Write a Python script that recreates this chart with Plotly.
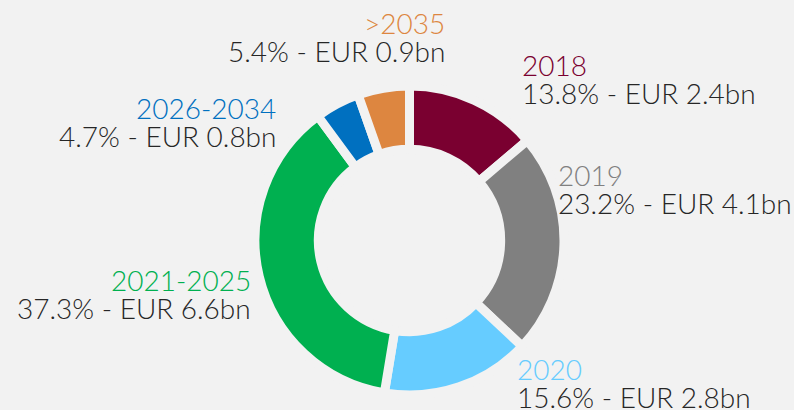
import plotly.graph_objects as go

categories = ["2018", "2019", "2020", "2021-2025", "2026-2034", ">2035"]
shares_pct = [13.8, 23.2, 15.6, 37.3, 4.7, 5.4]
amounts_bn = [2.4, 4.1, 2.8, 6.6, 0.8, 0.9]
colors = ["#7a0030", "#808080", "#66ccff", "#00b050", "#0070c0", "#dd8640"]

BG = "#f2f2f2"
W, H = 794, 410

# label layout (pixel positions of each label block: anchor x, first line mid y, side)
label_pos = {
    "2018": (520, 65, "left"),
    "2019": (556, 175, "left"),
    "2020": (515, 369, "left"),
    "2021-2025": (253, 280, "right"),
    "2026-2034": (278, 108, "right"),
    ">2035": (447, 23, "right"),
}
line_gap = 28

# donut geometry in pixels
cx, cy, r = 409.5, 240.5, 154.5

fig = go.Figure(go.Pie(
    labels=categories,
    values=shares_pct,
    sort=False,
    direction="clockwise",
    rotation=0,
    hole=0.59,
    marker=dict(colors=colors, line=dict(color=BG, width=9)),
    textinfo="none",
    hoverinfo="label+percent",
    showlegend=False,
    domain=dict(x=[(cx - r) / W, (cx + r) / W], y=[1 - (cy + r) / H, 1 - (cy - r) / H]),
))

font_family = "Lato, 'Open Sans', sans-serif"
annotations = []
for cat, pct, amt, col in zip(categories, shares_pct, amounts_bn, colors):
    x, y, side = label_pos[cat]
    annotations.append(dict(
        x=x / W, y=1 - y / H, xref="paper", yref="paper",
        text=cat, showarrow=False, xanchor=side, yanchor="middle",
        font=dict(family=font_family, size=28, color=col, weight=300),
    ))
    annotations.append(dict(
        x=x / W, y=1 - (y + line_gap) / H, xref="paper", yref="paper",
        text=f"{pct:.1f}% - EUR {amt}bn", showarrow=False, xanchor=side, yanchor="middle",
        font=dict(family=font_family, size=28, color="#262626", weight=300),
    ))

fig.update_layout(
    width=W, height=H,
    margin=dict(l=0, r=0, t=0, b=0),
    paper_bgcolor=BG, plot_bgcolor=BG,
    annotations=annotations,
)

fig.write_html(
    "out.html",
    config={"displayModeBar": False},
    post_script="document.body.style.margin='0';document.body.style.background='#f2f2f2';",
)
